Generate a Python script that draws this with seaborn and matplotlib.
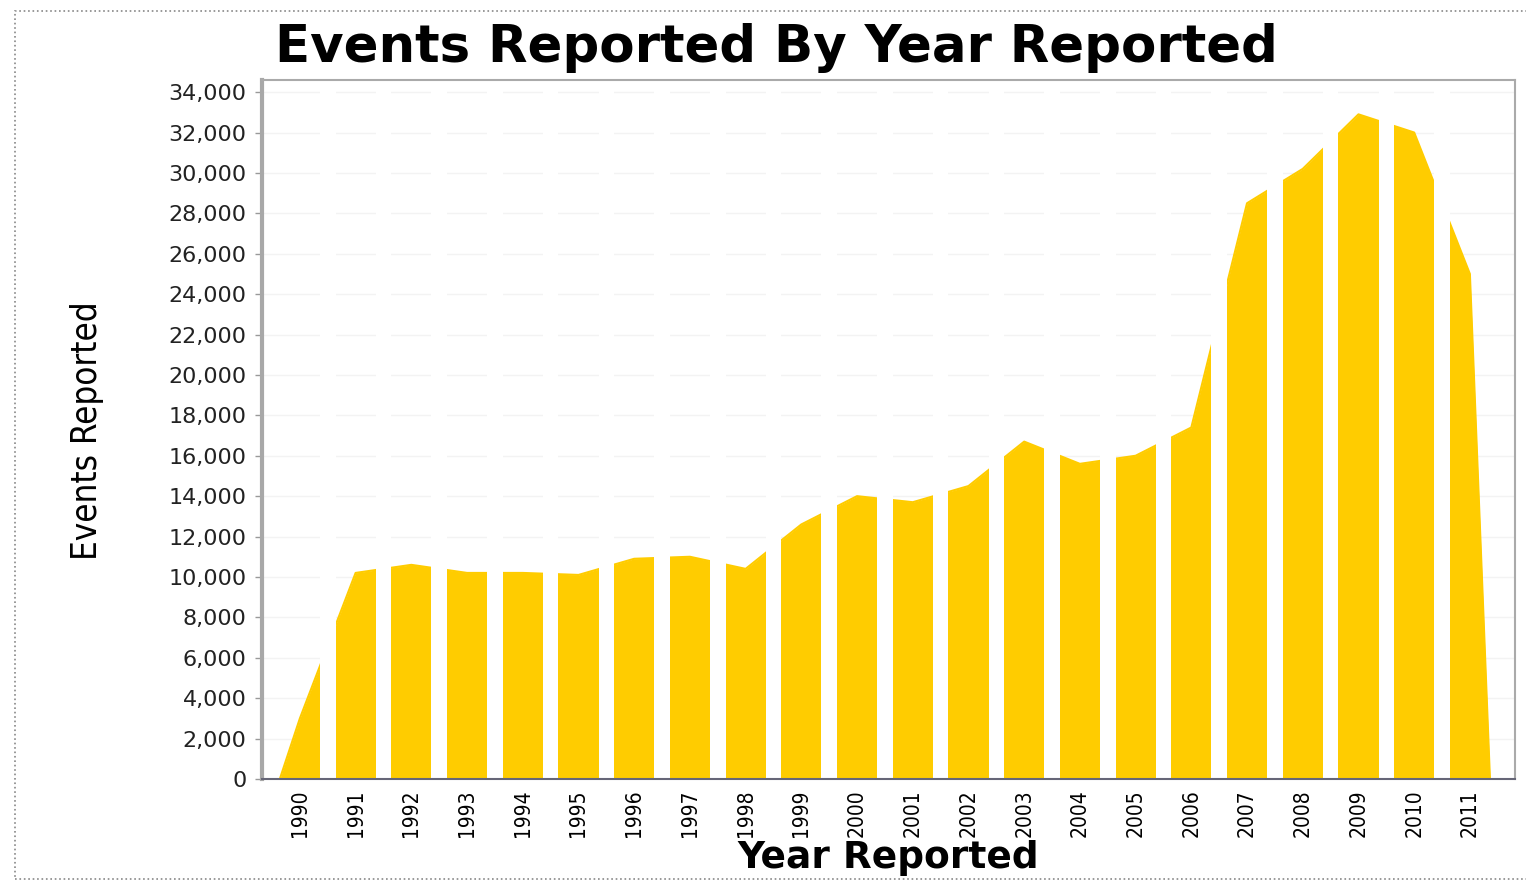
import numpy as np
import pandas as pd
import matplotlib
matplotlib.use('Agg')
import matplotlib.pyplot as plt
from matplotlib.patches import Rectangle
from matplotlib.ticker import FuncFormatter, MultipleLocator
from matplotlib import font_manager
import seaborn as sns

# ============================================================
# Data
# ============================================================
years = list(range(1990, 2012))
events = [3000, 10200, 10600, 10200, 10200, 10100, 10900, 11000, 10400, 12600,
          14000, 13700, 14500, 16700, 15600, 16000, 17400, 28500, 30200, 32900,
          32000, 25000]

TITLE = 'Events Reported By Year Reported'
XLABEL = 'Year Reported'
YLABEL = 'Events Reported'

FILL = '#FFCC00'
BAR_W = 0.72  # visible width of each yearly column

# narrow font for the year labels / y label, if one is around
names = {f.name for f in font_manager.fontManager.ttflist}
NARROW = 'Liberation Sans Narrow' if 'Liberation Sans Narrow' in names else 'DejaVu Sans'

# ============================================================
# Figure
# ============================================================
sns.set_style('white')
fig = plt.figure(figsize=(15.26, 8.82), dpi=100)
ax = fig.add_axes([0.1717, 0.1168, 0.8211, 0.7925])

# area closes to zero at the outer edges of the first / last column
x_area = [years[0] - BAR_W / 2] + years + [years[-1] + BAR_W / 2]
y_area = [0] + events + [0]
df = pd.DataFrame({'year': x_area, 'events': y_area})

ax.fill_between(df['year'], df['events'], 0, color=FILL, linewidth=0, zorder=2)
sns.lineplot(data=df, x='year', y='events', color=FILL, linewidth=1.5, ax=ax, zorder=2)

# white gaps between the yearly columns
for y in years[:-1]:
    ax.axvspan(y + BAR_W / 2, y + 1 - BAR_W / 2, color='white', linewidth=0, zorder=3)

ax.set_xlim(years[0] - 0.68, years[-1] + 0.81)
ax.set_ylim(0, 34600)

ax.yaxis.set_major_locator(MultipleLocator(2000))
ax.yaxis.set_major_formatter(FuncFormatter(lambda v, p: f'{int(v):,}'))
ax.set_xticks(years)
ax.set_xticklabels([str(y) for y in years], rotation=90,
                   family=NARROW, stretch='condensed', fontsize=15, color='black')
for lab in ax.get_yticklabels():
    lab.set_fontsize(16)
    lab.set_color('#222222')

ax.tick_params(axis='y', which='major', left=True, length=5, width=1, color='#999999', pad=6)
ax.tick_params(axis='x', which='major', bottom=False, pad=4)
ax.yaxis.grid(True, color='#f3f3f3', linewidth=1)
ax.set_axisbelow(True)

for side in ['top', 'right']:
    ax.spines[side].set_color('#aaaaaa')
    ax.spines[side].set_linewidth(1.5)
ax.spines['left'].set_color('#a8a8a8')
ax.spines['left'].set_linewidth(3)
ax.spines['bottom'].set_color('#666677')
ax.spines['bottom'].set_linewidth(1.5)
for sp in ax.spines.values():
    sp.set_zorder(5)

ax.set_xlabel(XLABEL, fontsize=27, fontweight='bold', labelpad=2, color='black')
ax.set_ylabel('')
fig.text(0.057, 0.512, YLABEL, rotation=90, ha='center', va='center',
         family=NARROW, stretch='condensed', fontsize=25, color='black')

fig.text(0.509, 0.946, TITLE, ha='center', va='center',
         fontsize=37, fontweight='bold', color='black')

# dotted outer border
fig.patches.append(Rectangle((0.010, 0.003), 0.995, 0.985, transform=fig.transFigure,
                             fill=False, edgecolor='#888888', linestyle=':', linewidth=1.2))

plt.savefig('out.png', dpi=100)
plt.close()
